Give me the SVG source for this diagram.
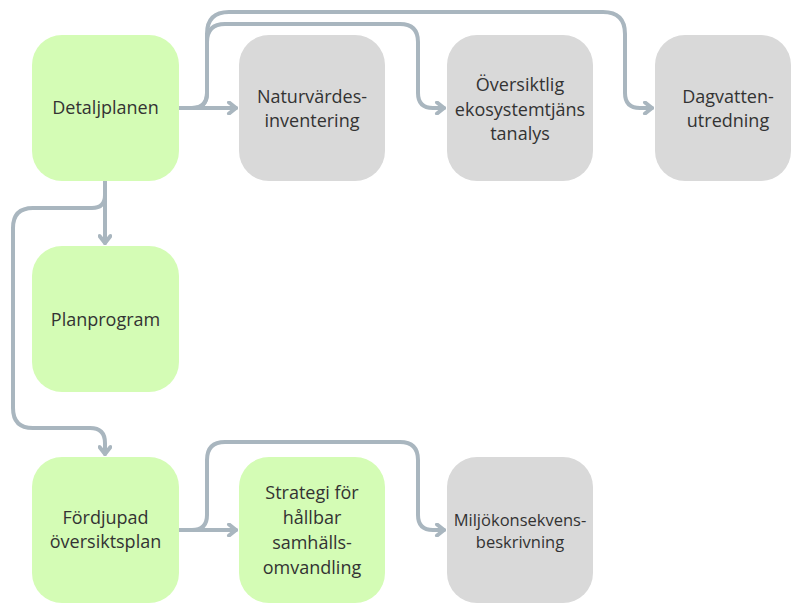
<svg xmlns="http://www.w3.org/2000/svg" width="792" height="603" viewBox="0 0 792 603">
<defs>
<style>
.g{fill:#d4fcb5}
.s{fill:#d9d9d9}
.t{font-family:"Open Sans","Noto Sans","Liberation Sans",sans-serif;font-size:18px;fill:#333333;text-anchor:middle}
.sm{font-size:16.5px}
.c{fill:none;stroke:#a9b6bf;stroke-width:4;stroke-linecap:round;stroke-linejoin:round}
</style>
<marker id="ah" viewBox="0 0 12 14" refX="10" refY="7" markerWidth="12" markerHeight="14" markerUnits="userSpaceOnUse" orient="auto">
<path d="M3,1.5 L10,7 L3,12.5" fill="none" stroke="#a9b6bf" stroke-width="4" stroke-linecap="round" stroke-linejoin="round"/>
</marker>
</defs>
<rect width="792" height="603" fill="#ffffff"/>
<g id="connectors">
<path class="c" d="M179,108 H236" marker-end="url(#ah)"/>
<path class="c" d="M179,108 H192 Q207,108 207,93 V42 Q207,24 225,24 H400 Q418,24 418,42 V93 Q418,108 433,108 H444" marker-end="url(#ah)"/>
<path class="c" d="M179,108 H192 Q207,108 207,93 V34 Q207,12 229,12 H603 Q625,12 625,34 V93 Q625,108 640,108 H652" marker-end="url(#ah)"/>
<path class="c" d="M105,181 V243" marker-end="url(#ah)"/>
<path class="c" d="M105,181 V195 Q105,208 92,208 H33 Q13,208 13,228 V408 Q13,428 33,428 H90 Q105,428 105,443 V454" marker-end="url(#ah)"/>
<path class="c" d="M179,530 H236" marker-end="url(#ah)"/>
<path class="c" d="M179,530 H192 Q207,530 207,515 V460 Q207,442 225,442 H400 Q418,442 418,460 V515 Q418,530 433,530 H444" marker-end="url(#ah)"/>
</g>
<g id="n-detaljplanen">
<rect class="g" x="32" y="35" width="147" height="146" rx="30"/>
<text class="t" x="105.5" y="114">Detaljplanen</text>
</g>
<g id="n-naturvardes">
<rect class="s" x="239" y="35" width="146" height="146" rx="30"/>
<text class="t" x="312" y="103">Naturvärdes-</text>
<text class="t" x="312" y="127">inventering</text>
</g>
<g id="n-oversiktlig">
<rect class="s" x="447" y="35" width="146" height="146" rx="30"/>
<text class="t" x="520" y="91">Översiktlig</text>
<text class="t" x="520" y="116">ekosystemtjäns</text>
<text class="t" x="520" y="140">tanalys</text>
</g>
<g id="n-dagvatten">
<rect class="s" x="655" y="35" width="136" height="146" rx="30"/>
<text class="t" x="728" y="103">Dagvatten-</text>
<text class="t" x="728" y="127">utredning</text>
</g>
<g id="n-planprogram">
<rect class="g" x="32" y="246" width="147" height="146" rx="30"/>
<text class="t" x="105.5" y="326">Planprogram</text>
</g>
<g id="n-fordjupad">
<rect class="g" x="32" y="457" width="147" height="146" rx="30"/>
<text class="t" x="105.5" y="524">Fördjupad</text>
<text class="t" x="105.5" y="548">översiktsplan</text>
</g>
<g id="n-strategi">
<rect class="g" x="239" y="457" width="146" height="146" rx="30"/>
<text class="t" x="312" y="499">Strategi för</text>
<text class="t" x="312" y="524">hållbar</text>
<text class="t" x="312" y="549">samhälls-</text>
<text class="t" x="312" y="574">omvandling</text>
</g>
<g id="n-miljo">
<rect class="s" x="447" y="457" width="146" height="146" rx="30"/>
<text class="t sm" x="520" y="526">Miljökonsekvens-</text>
<text class="t sm" x="520" y="548">beskrivning</text>
</g>
</svg>
